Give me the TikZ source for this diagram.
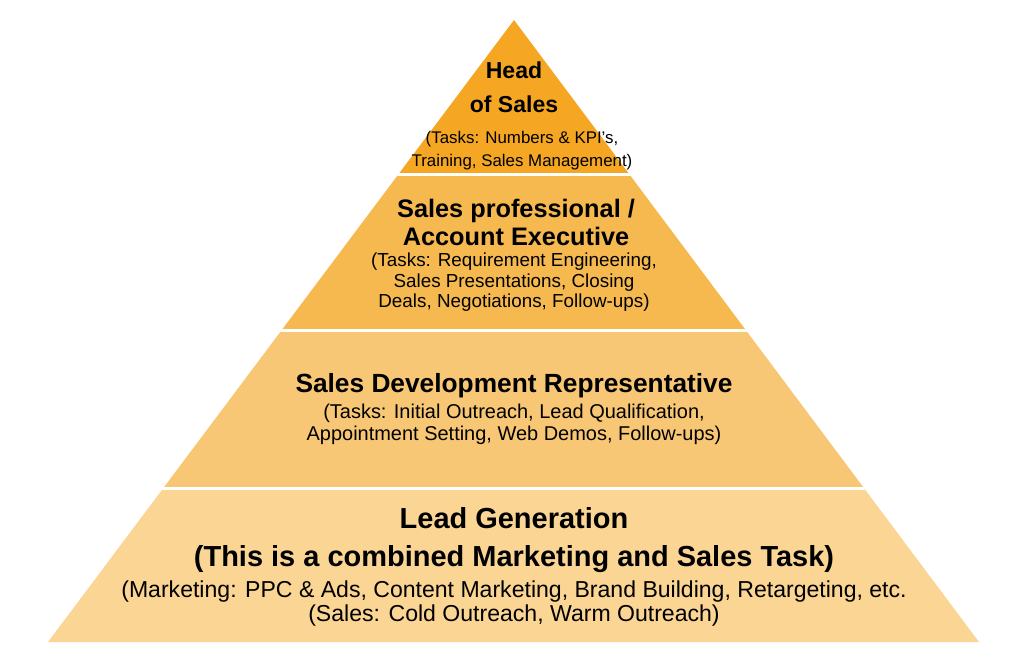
\documentclass[tikz,border=0pt]{standalone}
\usepackage{fontspec}
\setmainfont{Liberation Sans}
\usepackage{tikz}
\usetikzlibrary{calc}
\definecolor{layerA}{RGB}{245,166,35}
\definecolor{layerB}{RGB}{246,185,80}
\definecolor{layerC}{RGB}{248,199,117}
\definecolor{layerD}{RGB}{250,213,148}
\newcommand{\fsz}[2]{\fontsize{#1}{#2}\selectfont}

\begin{document}
\begin{tikzpicture}[x=0.025cm, y=-0.025cm,
    title/.style={align=center, inner sep=0pt, font=\bfseries},
    tasks/.style={align=center, inner sep=0pt},
    gap/.style={white, line width=2.2pt}]
                \useasboundingbox (0,0) rectangle (1024,662);
                % Corners
                \coordinate (apex) at (514,20);
                \coordinate (bl) at (48,642);
                \coordinate (br) at (979,642);

                % Layers
                \begin{scope}
                    \clip (apex) -- (bl) -- (br) -- cycle;
                    \fill[layerA] (0,0) rectangle (1024,174.5);
                    \fill[layerB] (0,174.5) rectangle (1024,330.5);
                    \fill[layerC] (0,330.5) rectangle (1024,488.5);
                    \fill[layerD] (0,488.5) rectangle (1024,662);
                    \draw[gap] (0,174.5) -- (1024,174.5);
                    \draw[gap] (0,330.5) -- (1024,330.5);
                    \draw[gap] (0,488.5) -- (1024,488.5);
                \end{scope}

                % Nodes
                \node [title, font=\bfseries\fsz{16.4}{24.2}] (head) at (514,87) {Head\\of Sales};
                \node [tasks, font=\fsz{12}{16.4}] (headtasks) at (522,150.5) {(Tasks: Numbers \& KPI’s,\\Training, Sales Management)};
                \node [title, font=\bfseries\fsz{18}{19.9}] (ae) at (516,222) {Sales professional /\\Account Executive};
                \node [tasks, font=\fsz{13.4}{14.6}] (aetasks) at (514,282.5) {(Tasks: Requirement Engineering,\\Sales Presentations, Closing\\Deals, Negotiations, Follow-ups)};
                \node [title, font=\bfseries\fsz{18.7}{22}] (sdr) at (514,386) {Sales Development Representative};
                \node [tasks, font=\fsz{14.2}{15.6}] (sdrtasks) at (514,424) {(Tasks: Initial Outreach, Lead Qualification,\\Appointment Setting, Web Demos, Follow-ups)};
                \node [title, font=\bfseries\fsz{20.6}{26.5}] (leadgen) at (514,540) {Lead Generation\\(This is a combined Marketing and Sales Task)};
                \node [tasks, font=\fsz{16.4}{16.4}] (leadgentasks) at (514,603.5) {(Marketing: PPC \& Ads, Content Marketing, Brand Building, Retargeting, etc.\\(Sales: Cold Outreach, Warm Outreach)};
            \end{tikzpicture}
\end{document}
